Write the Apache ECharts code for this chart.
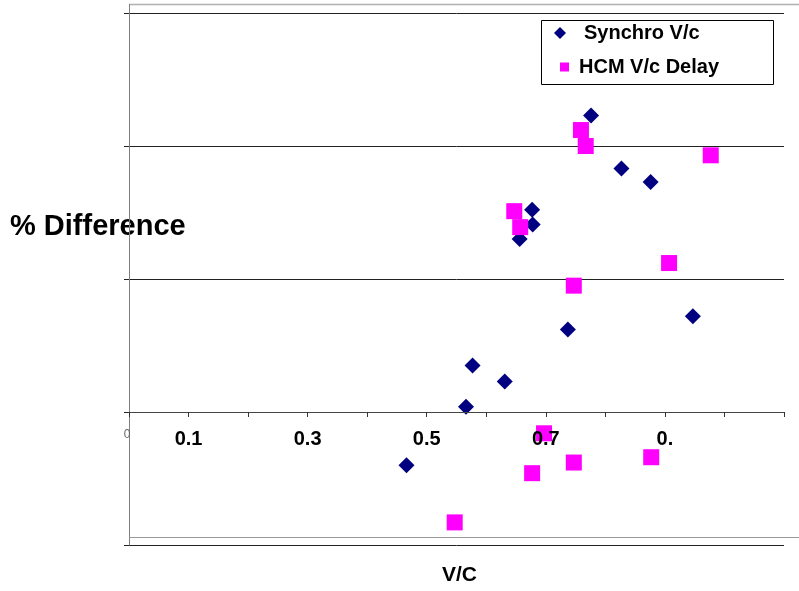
<!DOCTYPE html>
<html>
<head>
<meta charset="utf-8">
<title>% Difference vs V/C</title>
<script src="https://cdn.jsdelivr.net/npm/echarts@6/dist/echarts.min.js"></script>
<style>
  html, body { margin: 0; padding: 0; background: #fff; }
  #chart { width: 799px; height: 591px; }
</style>
</head>
<body>
<div id="chart"></div>
<script>
// Tick labels along the V/C axis (one per 0.1 step, blanks are unlabeled ticks)
const xTickLabels = ['0', '0.1', '', '0.3', '', '0.5', '', '0.7', '', '0.', '', ''];

// [V/C, % difference]
const synchroVc = [
  [0.776, 22.3], [0.827, 18.3], [0.876, 17.3], [0.677, 15.2],
  [0.678, 14.1], [0.656, 13.0], [0.947, 7.2], [0.737, 6.2],
  [0.577, 3.5], [0.631, 2.3], [0.566, 0.4], [0.466, -4.0]
];
const hcmVcDelay = [
  [0.759, 21.2], [0.767, 20.0], [0.977, 19.3], [0.647, 15.1],
  [0.657, 13.9], [0.907, 11.2], [0.747, 9.5], [0.697, -1.6],
  [0.747, -3.8], [0.877, -3.4], [0.677, -4.6], [0.547, -8.3]
];

const seriesNames = ['Synchro V/c', 'HCM V/c Delay'];
const FONT = '"Liberation Sans", Arial, Helvetica, sans-serif';

// y range of the value axis; the V/C axis sits on the zero line
const yMin = -10, yMax = 30, yStep = 10;
const gridTop = 13, gridBottom = 46, chartH = 591;
const plotH = chartH - gridTop - gridBottom;
const zeroOffset = -plotH * (0 - yMin) / (yMax - yMin);

const chart = echarts.init(document.getElementById('chart'), null, { renderer: 'canvas' });

chart.setOption({
  animation: false,
  backgroundColor: '#ffffff',
  grid: { left: 129, right: 15, top: gridTop, bottom: gridBottom, containLabel: false },
  xAxis: {
    type: 'value',
    min: 0, max: 1.1, interval: 0.1,
    z: 10,
    offset: zeroOffset,
    axisLine: { show: true, onZero: false, lineStyle: { color: '#444', width: 1 } },
    axisTick: { show: true, length: 5, lineStyle: { color: '#333' } },
    splitLine: { show: false },
    axisLabel: {
      show: true,
      margin: 17,
      showMinLabel: true,
      showMaxLabel: true,
      formatter: function (v) {
        const i = Math.round(v * 10);
        const t = xTickLabels[i];
        if (!t) return '';
        return i === 0 ? '{s|' + t + '}' : '{b|' + t + '}';
      },
      rich: {
        s: { fontFamily: FONT, fontSize: 12, color: '#666', padding: [0, 4, 0, 0] },
        b: { fontFamily: FONT, fontSize: 20, fontWeight: 'bold', color: '#000' }
      }
    }
  },
  yAxis: {
    type: 'value',
    min: yMin, max: yMax, interval: yStep,
    axisLine: { show: true, onZero: false, lineStyle: { color: '#7f7f7f', width: 1 } },
    axisTick: { show: true, length: 5, lineStyle: { color: '#222' } },
    axisLabel: { show: false },
    splitLine: { show: true, lineStyle: { color: '#222', width: 1 } }
  },
  legend: [
    {
      data: [{ name: seriesNames[0], icon: 'diamond' }],
      left: 554, top: 23, padding: 0,
      itemWidth: 12, itemHeight: 12,
      selectedMode: false,
      itemStyle: { opacity: 1 },
      textStyle: { fontFamily: FONT, fontSize: 20, fontWeight: 'bold', color: '#000', padding: [0, 0, 0, 13] }
    },
    {
      data: [{ name: seriesNames[1], icon: 'rect' }],
      left: 560, top: 57, padding: 0,
      itemWidth: 9, itemHeight: 9,
      selectedMode: false,
      itemStyle: { opacity: 1 },
      textStyle: { fontFamily: FONT, fontSize: 20, fontWeight: 'bold', color: '#000', padding: [0, 0, 0, 5] }
    }
  ],
  graphic: [
    // frame lines around the plot
    { type: 'line', z: 1, shape: { x1: 129, y1: 4.5, x2: 799, y2: 4.5 }, style: { stroke: '#b0b0b0', lineWidth: 1.5 } },
    { type: 'line', z: 1, shape: { x1: 129.5, y1: 4, x2: 129.5, y2: 13 }, style: { stroke: '#7f7f7f', lineWidth: 1 } },
    { type: 'line', z: 1, shape: { x1: 129, y1: 537.5, x2: 799, y2: 537.5 }, style: { stroke: '#9a9a9a', lineWidth: 1 } },
    // legend box
    { type: 'rect', z: 1, shape: { x: 541.5, y: 20.5, width: 232, height: 64 }, style: { fill: '#fff', stroke: '#000', lineWidth: 1 } },
    // axis titles
    { type: 'text', z: -1, x: 10, y: 227, style: { text: '% Difference', font: 'bold 29px ' + FONT, fill: '#000', verticalAlign: 'middle' } },
    { type: 'text', z: 1, x: 459.5, y: 575, style: { text: 'V/C', font: 'bold 21px ' + FONT, fill: '#000', align: 'center', verticalAlign: 'middle' } }
  ],
  series: [
    {
      name: seriesNames[0],
      type: 'scatter',
      data: synchroVc,
      symbol: 'diamond',
      symbolSize: 16,
      itemStyle: { color: '#000080', opacity: 1 },
      emphasis: { disabled: true }
    },
    {
      name: seriesNames[1],
      type: 'scatter',
      data: hcmVcDelay,
      symbol: 'rect',
      symbolSize: 16,
      itemStyle: { color: '#ff00ff', opacity: 1 },
      emphasis: { disabled: true }
    }
  ]
});
</script>
</body>
</html>
